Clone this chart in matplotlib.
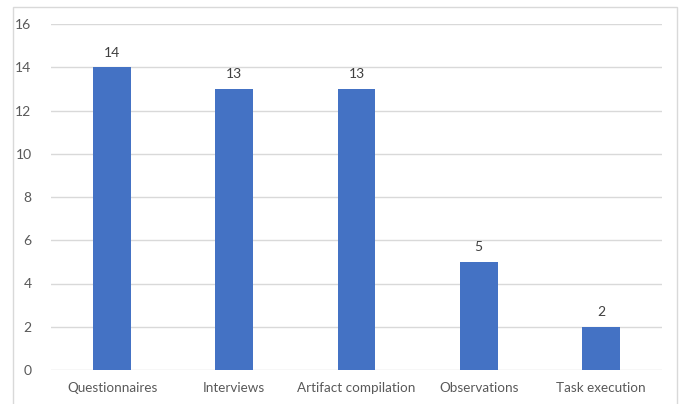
import matplotlib
matplotlib.use("Agg")
import matplotlib.pyplot as plt
from matplotlib.patches import Rectangle

categories = ["Questionnaires", "Interviews", "Artifact compilation", "Observations", "Task execution"]
values = [14, 13, 13, 5, 2]
yticks = [0, 2, 4, 6, 8, 10, 12, 14, 16]

plt.rcParams['font.family'] = ['Lato', 'DejaVu Sans']
W, H = 686, 404
fig = plt.figure(figsize=(W/100, H/100), dpi=100)
ax = fig.add_axes([51/W, (H-370)/H, (662-51)/W, (370-24)/H])

# outer border
fig.patches.append(Rectangle((13/W, -0.05), (677-13)/W, (H-7)/H + 0.05, transform=fig.transFigure,
                             fill=False, edgecolor='#D9D9D9', linewidth=1.0))

x = range(len(categories))
ax.bar(x, values, width=0.31, color='#4472C4', zorder=3)
for xi, v in zip(x, values):
    ax.text(xi, v + 0.4, str(v), ha='center', va='bottom', fontsize=10, color='#404040')

ax.set_xlim(-0.5, len(categories) - 0.5)
ax.set_ylim(0, 16)
ax.set_yticks(yticks)
ax.set_xticks(list(x))
ax.set_xticklabels(categories)
ax.tick_params(axis='both', length=0, labelsize=10, colors='#595959')
ax.tick_params(axis='x', labelsize=9.7, pad=9)
ax.tick_params(axis='y', pad=14)
ax.grid(axis='y', color='#D9D9D9', linewidth=1, zorder=0)
for s in ax.spines.values():
    s.set_visible(False)

fig.savefig("out.png", dpi=100)
